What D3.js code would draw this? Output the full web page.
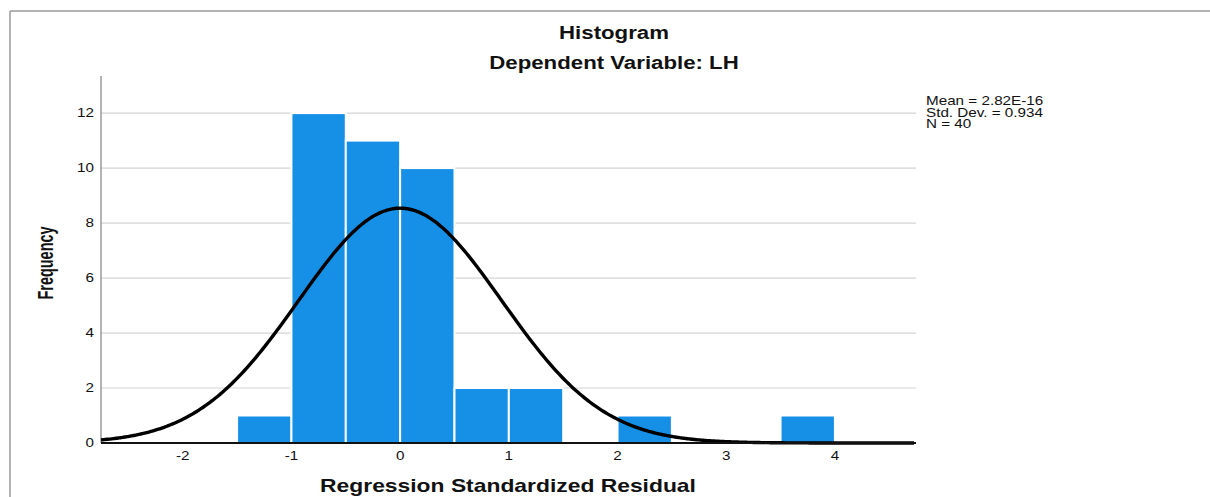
<!DOCTYPE html>
<html>
<head>
<meta charset="utf-8">
<script src="https://cdn.jsdelivr.net/npm/d3@7"></script>
<style>
  body { margin: 0; background: #fff; }
  text { font-family: "Liberation Sans", Arial, sans-serif; fill: #111; }
</style>
</head>
<body>
<div id="chart-area"></div>
<script>
// histogram data
var binStarts = [-1.5, -1, -0.5, 0, 0.5, 1, 2, 3.5];
var binWidth = 0.5;
var counts = [1, 12, 11, 10, 2, 2, 1, 1];
var xTicks = [-2, -1, 0, 1, 2, 3, 4];
var yTicks = [0, 2, 4, 6, 8, 10, 12];
// stats shown in the corner
var statMean = 2.82e-16;
var statSd = 0.934;
var statN = 40;
var statLines = ["Mean = 2.82E-16", "Std. Dev. = 0.934", "N = 40"];

var W = 1210, H = 497;
var stretch = 1.27; // text in the source is widened horizontally

var svg = d3.select("#chart-area")
    .append("svg")
        .attr("width", W)
        .attr("height", H);

// outer frame
svg.append("line")
    .attr("x1", 10).attr("x2", W).attr("y1", 11).attr("y2", 11)
    .attr("stroke", "#9a9a9a").attr("stroke-width", 1.5);
svg.append("line")
    .attr("x1", 10).attr("x2", 10).attr("y1", 11).attr("y2", H)
    .attr("stroke", "#9a9a9a").attr("stroke-width", 1.5);

// scales
var x = d3.scaleLinear()
    .domain([-2.752, 4.746])
    .range([101, 916]);
var y = d3.scaleLinear()
    .domain([0, 13.35])
    .range([443, 76]);

// helper for widened text
function stretchedText(cx, cy, str, size, weight, anchor) {
    var g = svg.append("g")
        .attr("transform", "translate(" + cx + "," + cy + ") scale(" + stretch + ",1)");
    return g.append("text")
        .attr("text-anchor", anchor || "middle")
        .attr("dominant-baseline", "central")
        .attr("font-size", size + "px")
        .attr("font-weight", weight || "normal")
        .text(str);
}

// gridlines
svg.append("g").selectAll("line")
    .data(yTicks.filter(function(d){ return d > 0; }))
    .enter().append("line")
        .attr("x1", x.range()[0])
        .attr("x2", x.range()[1])
        .attr("y1", function(d){ return y(d); })
        .attr("y2", function(d){ return y(d); })
        .attr("stroke", "#d4d4d4")
        .attr("stroke-width", 1.2);

// bars
svg.append("g").selectAll("rect")
    .data(binStarts)
    .enter().append("rect")
        .attr("x", function(d){ return x(d); })
        .attr("width", function(d){ return x(d + binWidth) - x(d); })
        .attr("y", function(d, i){ return y(counts[i]); })
        .attr("height", function(d, i){ return y(0) - y(counts[i]); })
        .attr("fill", "#1590e6")
        .attr("stroke", "#ffffff")
        .attr("stroke-width", 2);

// y axis line
svg.append("line")
    .attr("x1", x.range()[0]).attr("x2", x.range()[0])
    .attr("y1", y.range()[1]).attr("y2", y(0))
    .attr("stroke", "#8c8c8c").attr("stroke-width", 1.3);

// normal curve from the stats
var binPx = binWidth * statN;
var curveData = d3.range(x.domain()[0], x.domain()[1] + 0.001, 0.02);
var line = d3.line()
    .x(function(d){ return x(d); })
    .y(function(d){
        var z = (d - statMean) / statSd;
        return y(binPx * Math.exp(-0.5 * z * z) / (statSd * Math.sqrt(2 * Math.PI)));
    })
    .curve(d3.curveBasis);
svg.append("path")
    .datum(curveData)
    .attr("d", line)
    .attr("fill", "none")
    .attr("stroke", "#000")
    .attr("stroke-width", 3.4);

// x axis line
svg.append("line")
    .attr("x1", x.range()[0]).attr("x2", x.range()[1])
    .attr("y1", y(0)).attr("y2", y(0))
    .attr("stroke", "#111").attr("stroke-width", 2);

// tick labels
yTicks.forEach(function(d){
    stretchedText(94, y(d), d, 12, "normal", "end");
});
xTicks.forEach(function(d){
    stretchedText(x(d), 456, d, 12, "normal", "middle");
});

// titles
stretchedText(614, 33, "Histogram", 17.5, "bold");
stretchedText(614, 63, "Dependent Variable: LH", 17.5, "bold");
stretchedText(508, 485, "Regression Standardized Residual", 18, "bold");

// y title (rotated)
svg.append("g")
    .attr("transform", "translate(45,263) scale(1.45,1) rotate(-90)")
    .append("text")
        .attr("text-anchor", "middle")
        .attr("dominant-baseline", "central")
        .attr("font-size", "15px")
        .attr("font-weight", "bold")
        .attr("textLength", 73)
        .attr("lengthAdjust", "spacingAndGlyphs")
        .text("Frequency");

// stats box
statLines.forEach(function(s, i){
    stretchedText(926, 101.5 + i * 11.3, s, 12, "normal", "start");
});
</script>
</body>
</html>
